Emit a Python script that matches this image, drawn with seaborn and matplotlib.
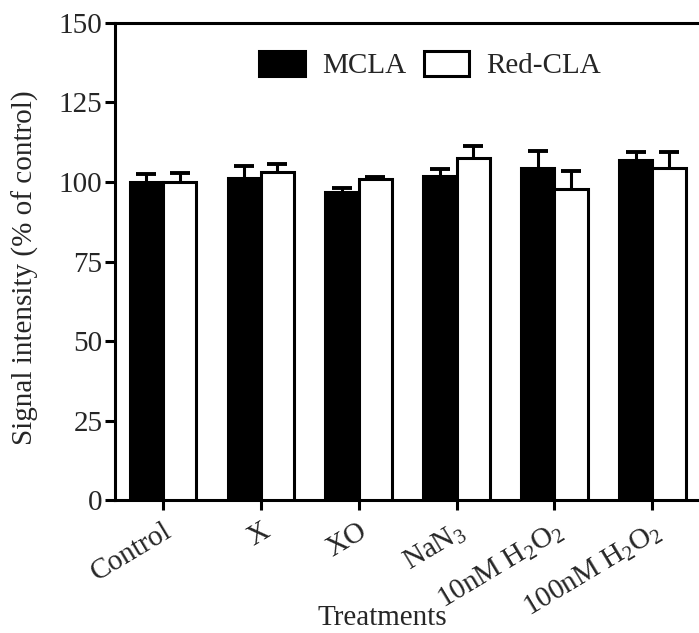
import matplotlib
matplotlib.use("Agg")
import matplotlib.pyplot as plt
import numpy as np
import pandas as pd
import seaborn as sns
from matplotlib.patches import Patch

treatments = ["Control", "X", "XO", "NaN$_\\mathrm{3}$",
              "10nM H$_\\mathrm{2}$O$_\\mathrm{2}$", "100nM H$_\\mathrm{2}$O$_\\mathrm{2}$"]
series = ["MCLA", "Red-CLA"]
mcla = [100.0, 101.2, 97.0, 102.0, 104.4, 106.8]
mcla_err = [2.6, 3.8, 1.0, 2.2, 5.2, 2.5]
red_cla = [100.0, 103.0, 100.8, 107.5, 97.8, 104.4]
red_cla_err = [2.7, 2.8, 0.8, 3.9, 5.8, 5.1]
y_ticks = [0, 25, 50, 75, 100, 125, 150]

df = pd.DataFrame({
    "Treatment": treatments * 2,
    "Probe": [series[0]] * len(treatments) + [series[1]] * len(treatments),
    "Signal": mcla + red_cla,
    "Err": mcla_err + red_cla_err,
})

sns.set_style("ticks")
plt.rcParams["font.family"] = ["Liberation Serif", "DejaVu Serif"]
plt.rcParams["mathtext.fontset"] = "custom"
plt.rcParams["mathtext.rm"] = "Liberation Serif"
plt.rcParams["mathtext.it"] = "Liberation Serif:italic"
plt.rcParams["mathtext.bf"] = "Liberation Serif:bold"

fs = 21
lw = 2.2

fig = plt.figure(figsize=(6.99, 6.33), dpi=100)
ax = fig.add_axes([0.1645, 0.21, 0.84, 0.7537])

sns.barplot(data=df, x="Treatment", y="Signal", hue="Probe", order=treatments,
            hue_order=series, palette=["black", "white"], edgecolor="black",
            linewidth=lw, width=0.68, errorbar=None, legend=False, ax=ax,
            zorder=3)

# one-sided (upper) error bars on each bar
for container, probe in zip(ax.containers, series):
    sub = df[df["Probe"] == probe].set_index("Treatment").loc[treatments]
    xs = [p.get_x() + p.get_width() / 2 for p in container]
    hs = [p.get_height() for p in container]
    eb = ax.errorbar(xs, hs, yerr=[np.zeros(len(xs)), sub["Err"].values],
                     fmt="none", ecolor="black", elinewidth=lw, capsize=7,
                     capthick=lw + 0.6, zorder=2)
    eb[1][0].set_visible(False)

ax.set_ylim(0, 150)
ax.set_xlim(-0.49, 5.51)
ax.set_yticks(y_ticks)
ax.set_yticklabels([str(t) for t in y_ticks], fontsize=fs)
ax.set_xticks(range(len(treatments)))
ax.set_xticklabels(treatments, fontsize=fs, rotation=31, ha="right",
                   rotation_mode="anchor")
ax.tick_params(axis="both", width=lw, length=7, color="black", pad=2)
ax.tick_params(axis="x", pad=6)
for s in ax.spines.values():
    s.set_linewidth(lw)
    s.set_color("black")

ax.set_xlabel("Treatments", fontsize=fs)
ax.xaxis.set_label_coords(0.5465, 0.013, transform=fig.transFigure)
ax.xaxis.label.set_va("baseline")
ax.set_ylabel("Signal intensity (% of control)", fontsize=fs)
ax.yaxis.set_label_coords(0.036, 0.577, transform=fig.transFigure)
ax.yaxis.label.set_va("center")

handles = [Patch(facecolor="black", edgecolor="black", linewidth=lw),
           Patch(facecolor="white", edgecolor="black", linewidth=lw)]
ax.legend(handles, series, ncol=2, frameon=False, fontsize=fs,
          loc="center", bbox_to_anchor=(0.537, 0.912),
          handlelength=1.55, handleheight=0.93, columnspacing=0.6,
          handletextpad=0.6)

fig.savefig("out.png", dpi=100)
